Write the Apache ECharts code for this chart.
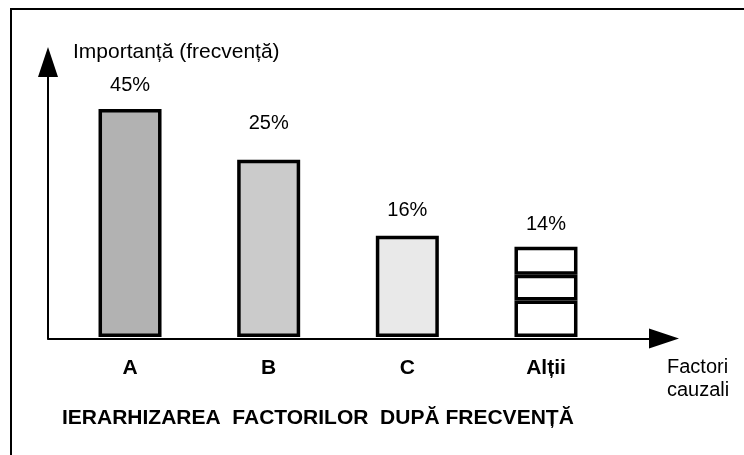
<!DOCTYPE html>
<html>
<head>
<meta charset="utf-8">
<script src="https://cdn.jsdelivr.net/npm/echarts@6/dist/echarts.min.js"></script>
<style>
  html, body { margin: 0; padding: 0; background: #fff; }
  #chart { width: 744px; height: 455px; }
</style>
</head>
<body>
<div id="chart"></div>
<script>
// data
const categories = ['A', 'B', 'C', 'Alții']
const percentLabels = ['45%', '25%', '16%', '14%']
// bar heights as drawn (the picture is not to scale), "Alții" is split in three pieces
const barHeights = [45, 35, 20, 7.2]
const altiiMiddle = ['-', '-', '-', 5.1]
const altiiTop = ['-', '-', '-', 5.5]

const FONT = '"Liberation Sans", Arial, sans-serif'

const chart = echarts.init(document.getElementById('chart'))

const fills = ['#b2b2b2', '#cbcbcb', '#e9e9e9', '#ffffff']
const labelGaps = [13, 26, 15, 12]

const mainData = barHeights.map((v, i) => ({
  value: v,
  itemStyle: { color: fills[i] },
  label: i < 3 ? { show: true, formatter: percentLabels[i], distance: labelGaps[i] } : { show: false },
}))
const midData = altiiMiddle.map((v) => (v === '-' ? '-' : { value: v, itemStyle: { color: '#fff' } }))
const topData = altiiTop.map((v, i) =>
  v === '-'
    ? '-'
    : { value: v, itemStyle: { color: '#fff' }, label: { show: true, formatter: percentLabels[i], distance: labelGaps[i] } }
)

const barSeries = (name, data) => ({
  name: name,
  type: 'bar',
  xAxisIndex: 1,
  yAxisIndex: 1,
  stack: 'f',
  barWidth: 63,
  data: data,
  itemStyle: { borderColor: '#000', borderWidth: 3.5 },
  label: { position: 'top', color: '#000', fontSize: 20, fontFamily: FONT },
})

const arrowLine = {
  show: true,
  symbol: ['none', 'triangle'],
  symbolSize: [20, 30],
  lineStyle: { color: '#000', width: 2 },
}

const option = {
  animation: false,
  textStyle: { fontFamily: FONT },
  title: {
    text: 'IERARHIZAREA  FACTORILOR  DUPĂ FRECVENȚĂ',
    left: 62,
    top: 408,
    padding: 0,
    textStyle: { color: '#000', fontSize: 21, fontWeight: 'bold', fontFamily: FONT },
  },
  graphic: [
    {
      type: 'rect',
      shape: { x: 11, y: 9, width: 800, height: 500 },
      style: { fill: 'none', stroke: '#000', lineWidth: 2 },
      silent: true,
    },
  ],
  grid: [
    { left: 48, right: 80, top: 62, bottom: 116.5 },
    { left: 60.7, right: 128.7, top: 58.3, bottom: 118 },
  ],
  xAxis: [
    {
      gridIndex: 0,
      type: 'value',
      min: 0,
      max: 1,
      axisLine: arrowLine,
      axisTick: { show: false },
      axisLabel: { show: false },
      splitLine: { show: false },
      name: 'Factori\ncauzali',
      nameLocation: 'end',
      nameGap: 3,
      nameTextStyle: {
        color: '#000',
        fontSize: 20,
        fontFamily: FONT,
        align: 'left',
        verticalAlign: 'top',
        lineHeight: 23,
        padding: [17, 0, 0, 0],
      },
    },
    {
      gridIndex: 1,
      type: 'category',
      data: categories,
      axisLine: { show: false },
      axisTick: { show: false },
      axisLabel: { margin: 21, color: '#000', fontSize: 21, fontWeight: 'bold', fontFamily: FONT },
    },
  ],
  yAxis: [
    {
      gridIndex: 0,
      type: 'value',
      min: 0,
      max: 1,
      axisLine: arrowLine,
      axisTick: { show: false },
      axisLabel: { show: false },
      splitLine: { show: false },
      name: 'Importanță (frecvență)',
      nameLocation: 'end',
      nameGap: 10,
      nameTextStyle: {
        color: '#000',
        fontSize: 21,
        fontFamily: FONT,
        align: 'left',
        verticalAlign: 'middle',
        padding: [0, 0, 0, 25],
      },
    },
    { gridIndex: 1, type: 'value', min: 0, max: 55, show: false },
  ],
  series: [barSeries('baza', mainData), barSeries('altii2', midData), barSeries('altii3', topData)],
}

chart.setOption(option)
</script>
</body>
</html>
